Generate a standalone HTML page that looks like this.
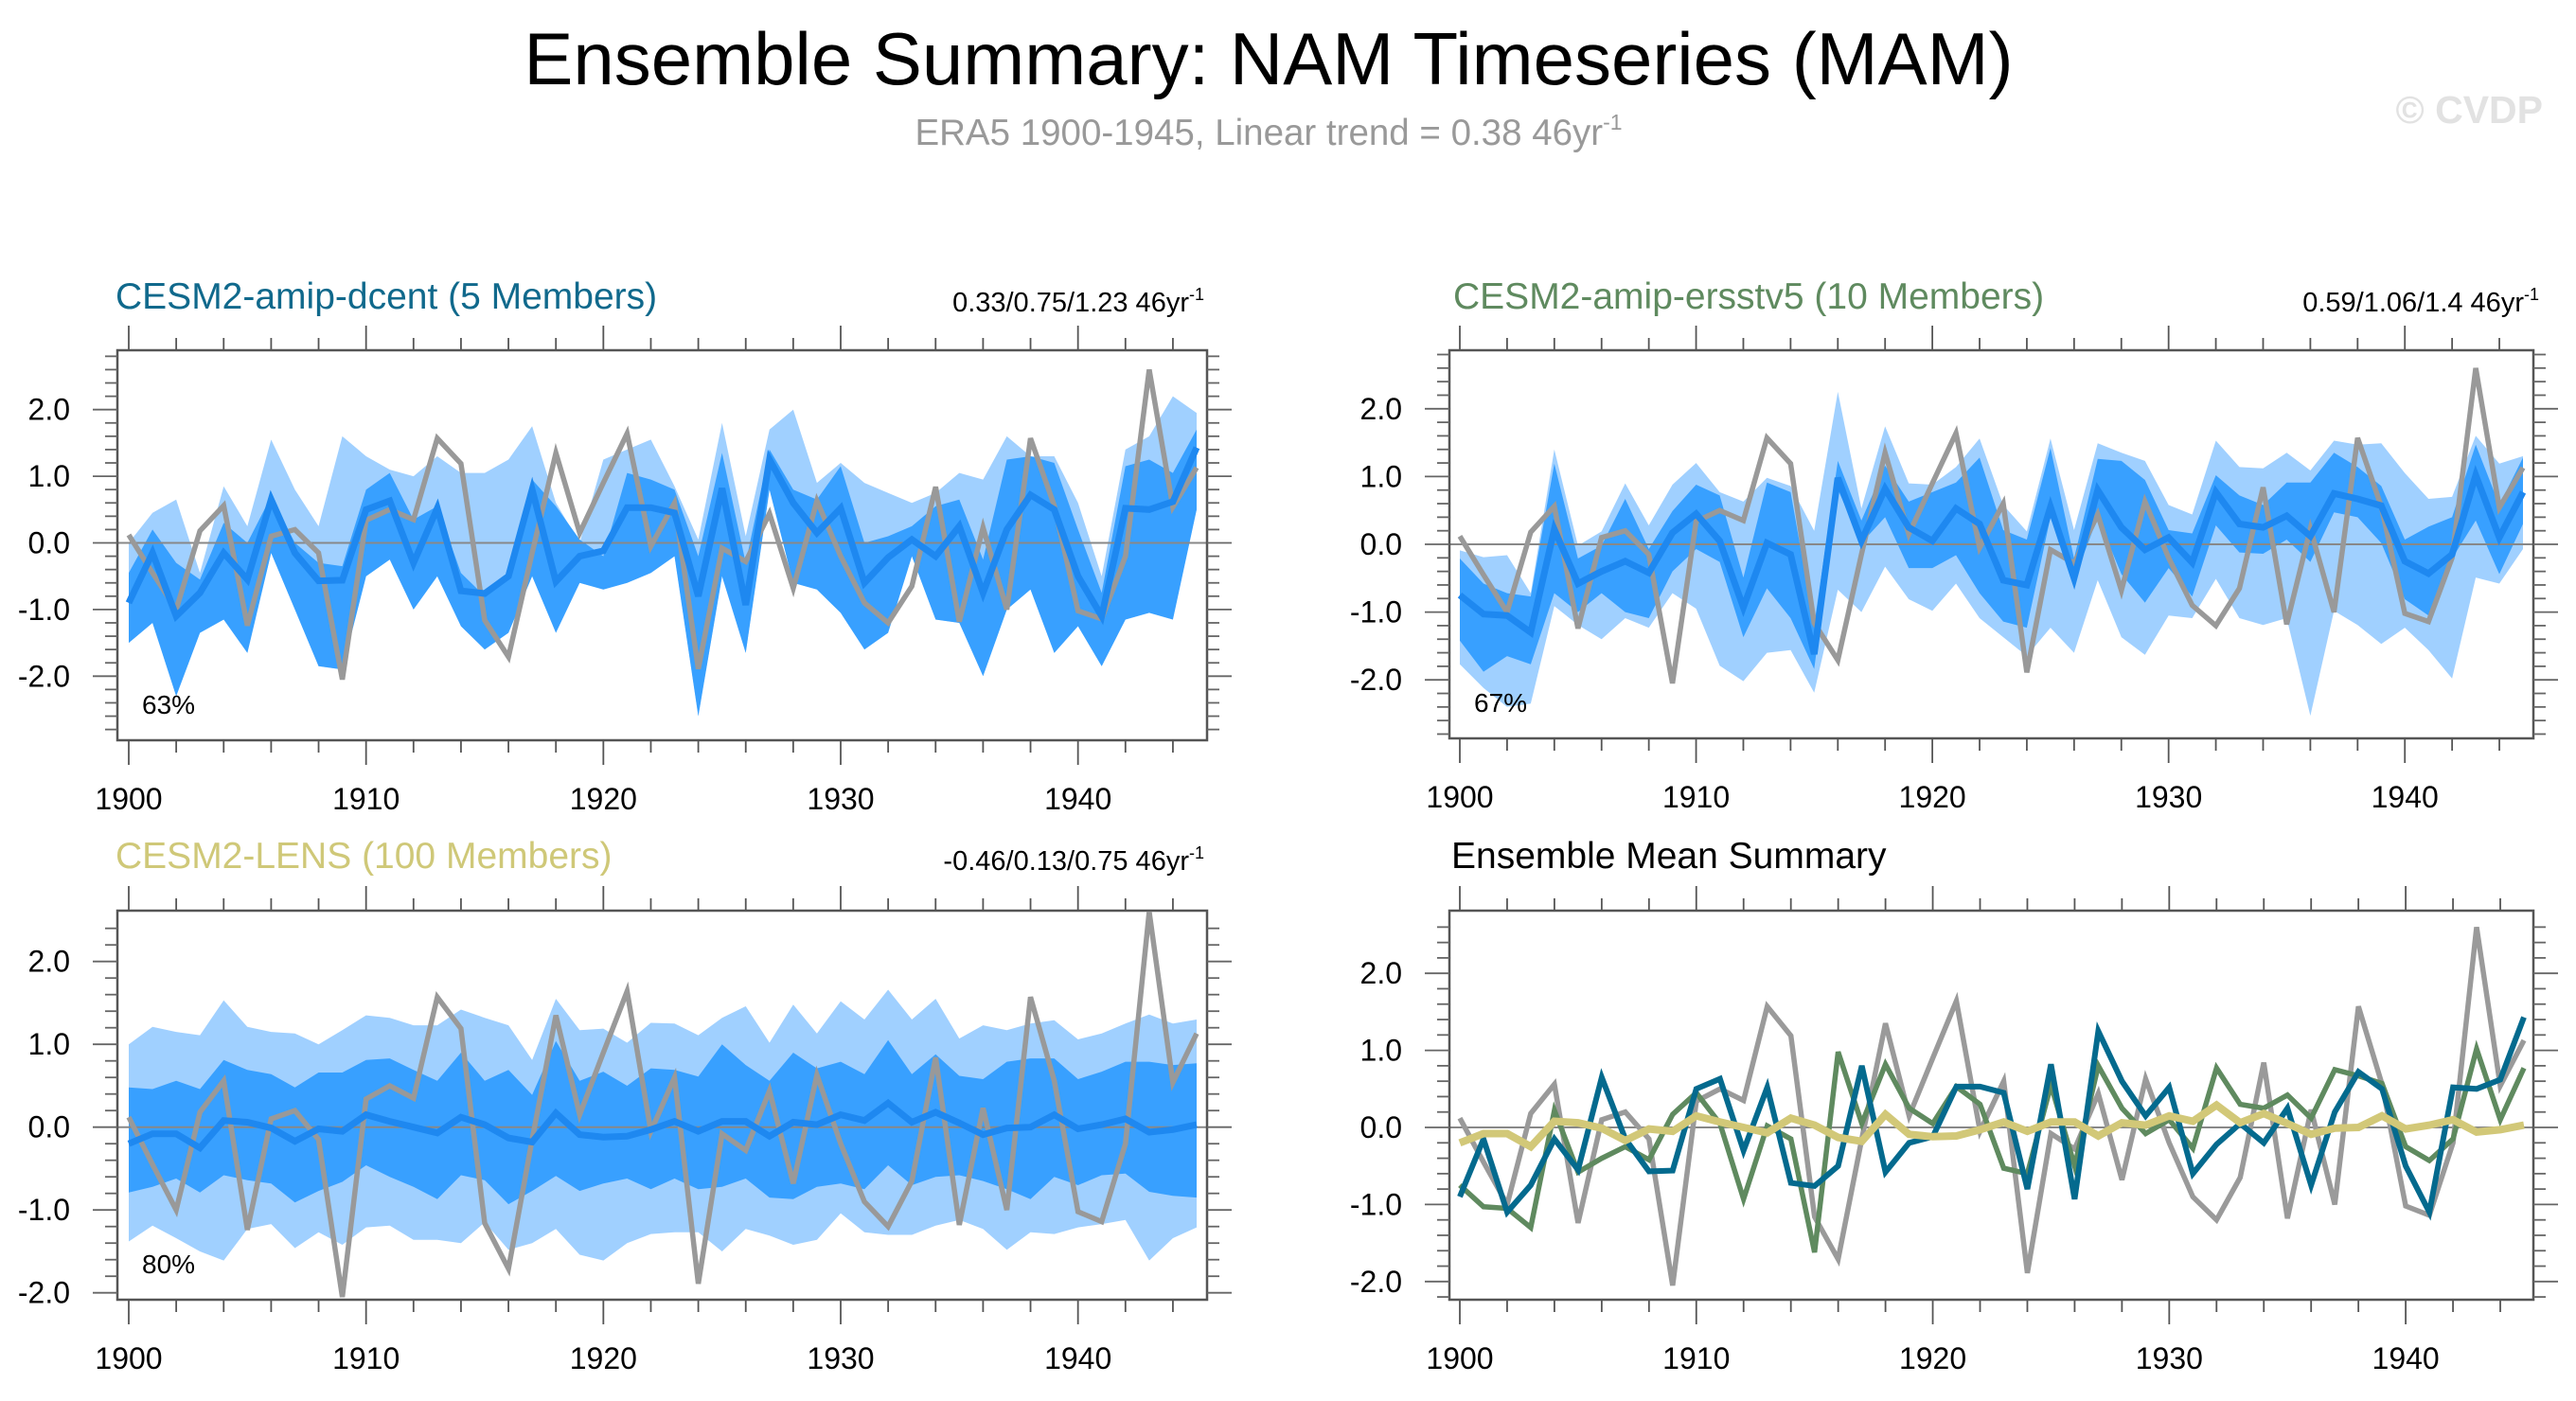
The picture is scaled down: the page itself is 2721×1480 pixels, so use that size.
<!DOCTYPE html>
<html><head><meta charset="utf-8"><title>NAM Timeseries</title>
<style>
html,body{margin:0;padding:0;background:#fff;}
svg{display:block;font-family:"Liberation Sans",sans-serif;}
</style></head>
<body>
<svg id="chart" width="2721" height="1480" viewBox="0 0 2721 1480" xmlns="http://www.w3.org/2000/svg">
<rect width="2721" height="1480" fill="#fff"/>
<text x="1340" y="89" font-size="78" text-anchor="middle" fill="#000">Ensemble Summary: NAM Timeseries (MAM)</text>
<text x="1340" y="153" font-size="38.5" text-anchor="middle" fill="#999">ERA5 1900-1945, Linear trend = 0.38 46yr<tspan font-size="23" dy="-16">-1</tspan></text>
<text x="2686" y="130" font-size="41" font-weight="bold" text-anchor="end" fill="#e2e2e2">© CVDP</text>

<text x="122" y="326" font-size="39" fill="#10698c">CESM2-amip-dcent (5 Members)</text>
<text x="1272" y="329" font-size="29" text-anchor="end" fill="#000">0.33/0.75/1.23 46yr<tspan font-size="18" dy="-12">-1</tspan></text>
<text x="1535" y="326" font-size="39" fill="#5f8a5f">CESM2-amip-ersstv5 (10 Members)</text>
<text x="2682" y="329" font-size="29" text-anchor="end" fill="#000">0.59/1.06/1.4 46yr<tspan font-size="18" dy="-12">-1</tspan></text>
<text x="122" y="917" font-size="39" fill="#cfc878">CESM2-LENS (100 Members)</text>
<text x="1272" y="919" font-size="29" text-anchor="end" fill="#000">-0.46/0.13/0.75 46yr<tspan font-size="18" dy="-12">-1</tspan></text>
<text x="1533" y="917" font-size="39" fill="#000">Ensemble Mean Summary</text>
<g id="plots"></g>
</svg>
<script>
const years = [1900,1901,1902,1903,1904,1905,1906,1907,1908,1909,1910,1911,1912,1913,1914,1915,1916,1917,1918,1919,1920,1921,1922,1923,1924,1925,1926,1927,1928,1929,1930,1931,1932,1933,1934,1935,1936,1937,1938,1939,1940,1941,1942,1943,1944,1945];
const era5 = [0.12,-0.45,-1.0,0.18,0.56,-1.24,0.1,0.2,-0.15,-2.05,0.34,0.5,0.35,1.57,1.19,-1.16,-1.71,-0.15,1.35,0.15,0.9,1.64,-0.05,0.6,-1.89,-0.08,-0.28,0.44,-0.68,0.63,-0.2,-0.9,-1.2,-0.65,0.84,-1.18,0.23,-1.0,1.57,0.56,-1.02,-1.14,-0.2,2.6,0.54,1.13];
const dcentMean = [-0.9,-0.15,-1.1,-0.75,-0.15,-0.55,0.65,-0.15,-0.57,-0.56,0.5,0.63,-0.3,0.52,-0.72,-0.76,-0.5,0.8,-0.58,-0.2,-0.12,0.53,0.53,0.45,-0.8,0.82,-0.93,1.25,0.6,0.15,0.52,-0.6,-0.22,0.05,-0.2,0.25,-0.75,0.2,0.72,0.5,-0.5,-1.1,0.52,0.5,0.62,1.43];
const dcentDarkHi = [-0.45,0.2,-0.3,-0.55,0.3,0.0,0.7,0.0,-0.3,-0.35,0.8,1.05,0.35,0.55,-0.45,-0.8,-0.45,0.95,0.55,0.05,-0.2,1.05,0.95,0.8,-0.2,1.35,-0.3,1.4,0.8,0.65,1.15,0.0,0.1,0.25,0.55,0.65,-0.25,1.25,1.3,1.2,0.2,-0.75,1.15,1.25,1.05,1.7];
const dcentDarkLo = [-1.5,-1.2,-2.3,-1.35,-1.15,-1.65,-0.15,-1.0,-1.85,-1.9,-0.5,-0.25,-1.0,-0.5,-1.25,-1.6,-1.35,-0.5,-1.35,-0.6,-0.7,-0.6,-0.45,-0.2,-2.6,-0.5,-1.65,0.8,-0.6,-0.7,-1.05,-1.6,-1.35,-0.2,-1.15,-1.2,-2.0,-1.0,-0.7,-1.65,-1.25,-1.85,-1.15,-1.05,-1.15,0.5];
const dcentLightHi = [0.0,0.45,0.65,-0.45,0.85,0.25,1.55,0.8,0.25,1.6,1.3,1.1,1.0,1.3,1.05,1.05,1.25,1.75,0.6,0.0,1.25,1.4,1.55,0.85,0.05,1.8,0.1,1.7,2.0,0.9,1.2,0.9,0.75,0.6,0.75,1.05,0.95,1.6,1.3,1.3,0.6,-0.5,1.4,1.6,2.2,1.95];
const dcentLightLo = [-1.5,-1.2,-2.3,-1.35,-1.15,-1.65,-0.15,-1.0,-1.85,-1.9,-0.5,-0.25,-1.0,-0.5,-1.25,-1.6,-1.35,-0.5,-1.35,-0.6,-0.7,-0.6,-0.45,-0.2,-2.6,-0.5,-1.65,0.8,-0.6,-0.7,-1.05,-1.6,-1.35,-0.2,-1.15,-1.2,-2.0,-1.0,-0.7,-1.65,-1.25,-1.85,-1.15,-1.05,-1.15,0.5];
const ersstMean = [-0.75,-1.03,-1.05,-1.3,0.22,-0.58,-0.4,-0.25,-0.42,0.17,0.45,0.05,-0.93,0.02,-0.15,-1.62,0.98,0.05,0.82,0.25,0.05,0.53,0.3,-0.53,-0.6,0.55,-0.5,0.8,0.25,-0.08,0.1,-0.27,0.77,0.3,0.25,0.42,0.12,0.75,0.67,0.57,-0.25,-0.43,-0.15,1.02,0.1,0.77];
const ersstDarkHi = [-0.21,-0.58,-0.72,-0.77,1.19,-0.21,-0.02,0.67,-0.07,0.49,0.88,0.72,-0.49,0.91,0.77,-1.19,1.23,0.35,1.16,0.63,0.77,0.91,1.28,0.21,0.07,1.42,-0.21,1.26,1.23,0.95,0.21,0.16,1.02,0.72,0.58,0.91,0.91,1.35,1.14,0.86,0.07,0.26,0.4,1.47,0.58,1.28];
const ersstDarkLo = [-1.42,-1.88,-1.65,-1.77,-0.72,-1.0,-0.72,-1.0,-1.09,-0.4,-0.07,-0.26,-1.37,-0.65,-1.09,-1.84,0.81,0.02,0.4,-0.35,-0.35,-0.16,-0.72,-1.14,-1.23,0.4,-0.53,0.4,-0.44,-0.86,-0.35,-0.77,0.28,-0.12,-0.14,0.07,-0.26,0.47,0.4,0.02,-0.81,-1.05,-0.21,0.35,-0.44,0.3];
const ersstLightHi = [-0.09,-0.19,-0.16,-0.72,1.4,-0.02,0.19,0.9,0.28,0.88,1.2,0.77,0.63,0.98,0.86,0.2,2.25,0.53,1.74,0.9,0.88,1.14,1.56,0.58,0.19,1.56,0.21,1.49,1.35,1.23,0.58,0.44,1.53,1.14,1.12,1.35,1.09,1.53,1.47,1.49,1.05,0.67,0.7,1.6,1.19,1.3];
const ersstLightLo = [-1.77,-2.12,-2.4,-2.35,-0.91,-1.19,-1.4,-1.09,-1.23,-0.72,-0.95,-1.79,-2.02,-1.6,-1.56,-2.19,-0.67,-1.0,-0.33,-0.81,-0.98,-0.58,-1.09,-1.37,-1.65,-1.23,-1.6,-0.53,-1.37,-1.63,-1.05,-1.09,-0.51,-1.09,-1.19,-1.09,-2.53,-0.98,-1.19,-1.47,-1.23,-1.56,-1.98,-0.49,-0.58,-0.07];
const lensMean = [-0.2,-0.08,-0.08,-0.25,0.08,0.06,-0.01,-0.17,-0.02,-0.05,0.15,0.07,0.0,-0.07,0.12,0.03,-0.13,-0.18,0.17,-0.09,-0.12,-0.11,-0.03,0.07,-0.05,0.07,0.07,-0.11,0.06,0.03,0.15,0.08,0.29,0.06,0.18,0.05,-0.09,-0.01,0.0,0.15,-0.02,0.03,0.1,-0.06,-0.03,0.03];
const lensDarkHi = [0.48,0.46,0.56,0.46,0.81,0.69,0.64,0.48,0.66,0.66,0.81,0.83,0.69,0.56,0.9,0.56,0.69,0.39,1.04,0.56,0.67,0.5,0.71,0.69,0.61,1.0,0.75,0.56,0.9,0.71,0.79,0.64,1.05,0.64,0.88,0.62,0.58,0.79,0.83,0.83,0.58,0.67,0.79,0.79,0.75,0.77];
const lensDarkLo = [-0.79,-0.72,-0.62,-0.79,-0.58,-0.64,-0.68,-0.91,-0.77,-0.66,-0.46,-0.6,-0.72,-0.87,-0.58,-0.64,-0.93,-0.77,-0.59,-0.77,-0.68,-0.62,-0.75,-0.62,-0.75,-0.72,-0.62,-0.85,-0.87,-0.72,-0.68,-0.75,-0.46,-0.7,-0.6,-0.58,-0.65,-0.75,-0.87,-0.6,-0.7,-0.58,-0.56,-0.78,-0.83,-0.85];
const lensLightHi = [1.0,1.21,1.15,1.11,1.53,1.21,1.15,1.13,1.0,1.17,1.35,1.32,1.23,1.23,1.42,1.32,1.23,0.81,1.55,1.17,1.19,1.02,1.26,1.25,1.11,1.32,1.46,1.02,1.48,1.13,1.52,1.3,1.66,1.3,1.55,1.07,1.23,1.17,1.25,1.29,1.06,1.13,1.25,1.36,1.25,1.3];
const lensLightLo = [-1.38,-1.19,-1.34,-1.5,-1.61,-1.23,-1.17,-1.46,-1.27,-1.42,-1.21,-1.19,-1.36,-1.36,-1.4,-1.15,-1.48,-1.4,-1.23,-1.54,-1.61,-1.4,-1.29,-1.27,-1.27,-1.5,-1.23,-1.31,-1.42,-1.36,-1.04,-1.27,-1.3,-1.3,-1.19,-1.12,-1.23,-1.48,-1.27,-1.29,-1.21,-1.17,-1.12,-1.61,-1.34,-1.21];
const yTickLabels = ["2.0","1.0","0.0","-1.0","-2.0"];
const yTickValues = [2,1,0,-1,-2];
const xTickYears = [1900,1910,1920,1930,1940];
const pctLabels = ["63%","67%","80%"];

const NS = "http://www.w3.org/2000/svg";
const root = document.getElementById("plots");
function mk(tag, attrs, parent) {
  const e = document.createElementNS(NS, tag);
  for (const k in attrs) e.setAttribute(k, attrs[k]);
  (parent || root).appendChild(e);
  return e;
}
const panels = [
  {id:"panel1", L:124, R:1275, T:370, B:782, x0:136, x1:1264, y0:573.5, u:70.4},
  {id:"panel2", L:1531, R:2676, T:370, B:780, x0:1542, x1:2665, y0:575, u:71.6},
  {id:"panel3", L:124, R:1275, T:962, B:1373, x0:136, x1:1264, y0:1190.7, u:87.5},
  {id:"panel4", L:1531, R:2676, T:962, B:1373, x0:1542, x1:2666, y0:1191, u:81.4}
];
function xs(p, yr) { return p.x0 + (yr - 1900) * (p.x1 - p.x0) / 45; }
function ys(p, v) { return p.y0 - v * p.u; }
function linePts(p, vals) { return vals.map((v, i) => xs(p, years[i]).toFixed(1) + "," + ys(p, v).toFixed(1)).join(" "); }
function bandPts(p, hi, lo) {
  const a = hi.map((v, i) => xs(p, years[i]).toFixed(1) + "," + ys(p, v).toFixed(1));
  const b = lo.map((v, i) => xs(p, years[i]).toFixed(1) + "," + ys(p, v).toFixed(1)).reverse();
  return a.concat(b).join(" ");
}

function axes(p, g) {
  const z = mk("line", {x1:p.L, x2:p.R, y1:p.y0, y2:p.y0, stroke:"#888", "stroke-width":2}, g);
  
  
  const box = mk("rect", {x:p.L, y:p.T, width:p.R - p.L, height:p.B - p.T, fill:"none", stroke:"#555", "stroke-width":2.5}, g);
  
  
  for (let yr = 1900; yr <= 1945; yr += 2) {
    const major = (yr % 10 === 0);
    const len = major ? 26 : 13;
    const x = xs(p, yr);
    mk("line", {x1:x, x2:x, y1:p.T, y2:p.T - len, stroke:"#555", "stroke-width":1.8}, g);
    mk("line", {x1:x, x2:x, y1:p.B, y2:p.B + len, stroke:"#555", "stroke-width":1.8}, g);
  }
  for (let k = -30; k <= 30; k += 2) {
    const v = k / 10;
    const y = ys(p, v);
    if (y < p.T + 2 || y > p.B - 2) continue;
    const major = (k % 10 === 0);
    const len = major ? 26 : 13;
    mk("line", {x1:p.L, x2:p.L - len, y1:y, y2:y, stroke:"#666", "stroke-width":1.8}, g);
    mk("line", {x1:p.R, x2:p.R + len, y1:y, y2:y, stroke:"#666", "stroke-width":1.8}, g);
  }
  yTickLabels.forEach((lab, i) => {
    const t = mk("text", {x:p.L - 50, y:ys(p, yTickValues[i]) + 11, "font-size":32, "text-anchor":"end", fill:"#000"}, g);
    t.textContent = lab;
    
    
  });
  xTickYears.forEach(yr => {
    const t = mk("text", {x:xs(p, yr), y:p.B + 73, "font-size":32, "text-anchor":"middle", fill:"#000"}, g);
    t.textContent = String(yr);
    
    
  });
}

const bandSets = [
  [dcentLightHi, dcentLightLo, dcentDarkHi, dcentDarkLo, dcentMean],
  [ersstLightHi, ersstLightLo, ersstDarkHi, ersstDarkLo, ersstMean],
  [lensLightHi, lensLightLo, lensDarkHi, lensDarkLo, lensMean]
];
bandSets.forEach((s, idx) => {
  const p = panels[idx];
  const g = mk("g", {});
  
  
  const l = mk("polygon", {points:bandPts(p, s[0], s[1]), fill:"#a0d0ff"}, g);
  
  
  const d = mk("polygon", {points:bandPts(p, s[2], s[3]), fill:"#38a0ff"}, g);
  
  
  axes(p, g);
  const gr = mk("polyline", {points:linePts(p, era5), fill:"none", stroke:"#999", "stroke-width":5.5, "stroke-linejoin":"miter"}, g);
  
  
  const m = mk("polyline", {points:linePts(p, s[4]), fill:"none", stroke:"#1e88f0", "stroke-width":7, "stroke-linejoin":"miter"}, g);
  
  
  const t = mk("text", {x:p.L + 26, y:p.B - 28, "font-size":28, fill:"#000"}, g);
  t.textContent = pctLabels[idx];
  
  
});

(function () {
  const p = panels[3];
  const g = mk("g", {});
  
  
  axes(p, g);
  const series = [
    [era5, "#9a9a9a", 5.5, "era5-line"],
    [ersstMean, "#5f8a5f", 5.5, "ersstv5-mean-line"],
    [dcentMean, "#046a8e", 6, "dcent-mean-line"],
    [lensMean, "#d2c878", 8, "lens-mean-line"]
  ];
  series.forEach(s => {
    const pl = mk("polyline", {points:linePts(p, s[0]), fill:"none", stroke:s[1], "stroke-width":s[2]}, g);
    
    
  });
})();
</script>
</body></html>
